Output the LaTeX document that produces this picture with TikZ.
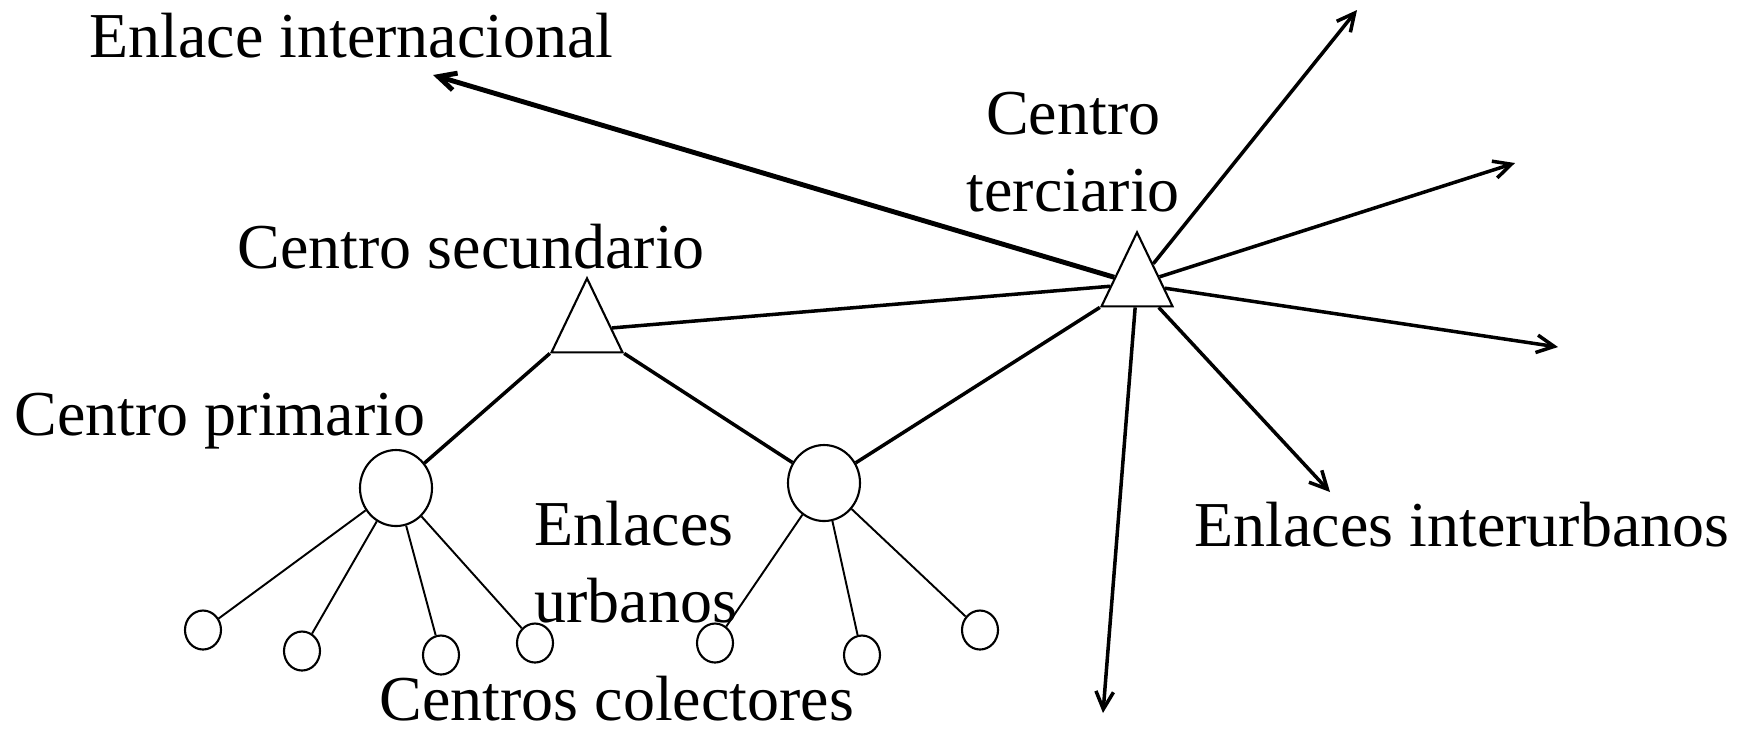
\documentclass[tikz,border=0pt]{standalone}
\usepackage{fontspec}
\setmainfont{Liberation Serif}
\usetikzlibrary{
        arrows.meta,
        shapes.geometric
    }
\tikzset{>={Straight Barb[length=5pt,width=5pt]},every node/.style={font=\fontsize{18.2}{21.9}\selectfont}}
\tikzset{centro/.style={draw,isosceles triangle,isosceles triangle stretches,shape border rotate=90,
        minimum width=0.71cm,minimum height=0.74cm,inner sep=0pt,line width=0.6pt,fill=white}}
\tikzset{primario/.style={draw,ellipse,minimum width=0.72cm,minimum height=0.76cm,inner sep=0pt,line width=0.6pt}}
\tikzset{colector/.style={draw,ellipse,minimum width=0.36cm,minimum height=0.39cm,inner sep=0pt,line width=0.6pt}}
\tikzset{etiqueta/.style={anchor=base west,inner sep=0pt}}
\tikzset{troncal/.style={line width=1pt},urbano/.style={line width=0.55pt}}

\begin{document}
\begin{tikzpicture}
                \useasboundingbox (0,0) rectangle (17.38,-7.29);
                \node[centro] (sec) at (5.87,-3.30) {};
                \node[centro] (ter) at (11.37,-2.84) {};
                \node[primario] (pri1) at (3.96,-4.88) {};
                \node[primario] (pri2) at (8.24,-4.83) {};
                \node[colector] (c1) at (2.03,-6.30) {};
                \node[colector] (c2) at (3.02,-6.51) {};
                \node[colector] (c3) at (4.41,-6.55) {};
                \node[colector] (c4) at (5.35,-6.43) {};
                \node[colector] (c5) at (7.15,-6.43) {};
                \node[colector] (c6) at (8.62,-6.55) {};
                \node[colector] (c7) at (9.80,-6.30) {};
                \coordinate (inter) at (4.33,-0.75);
                \coordinate (n1) at (13.57,-0.10);
                \coordinate (n2) at (15.15,-1.63);
                \coordinate (n3) at (15.58,-3.47);
                \coordinate (n4) at (13.30,-4.92);
                \coordinate (n5) at (11.03,-7.13);
                \node[etiqueta] (lint) at (0.89,-0.57) {Enlace internacional};
                \node[etiqueta,align=center] (lter) at (9.66,-2.11) {Centro\\terciario};
                \node[etiqueta] (lsec) at (2.37,-2.68) {Centro secundario};
                \node[etiqueta] (lpri) at (0.14,-4.35) {Centro primario};
                \node[etiqueta,align=left] (lurb) at (5.34,-6.22) {Enlaces\\urbanos};
                \node[etiqueta] (lintu) at (11.94,-5.46) {Enlaces interurbanos};
                \node[etiqueta] (lcol) at (3.79,-7.20) {Centros colectores};
                \path[troncal]
                    (sec) edge (ter)
                    (sec.left corner) edge (pri1)
                    (sec.right corner) edge (pri2)
                    (ter.left corner) edge (pri2);
                \path[urbano]
                    (pri1) edge (c1) (pri1) edge (c2) (pri1) edge (c3) (pri1) edge (c4)
                    (pri2) edge (c5) (pri2) edge (c6) (pri2) edge (c7);
                \draw[->,line width=1.4pt] (ter) -- (inter);
                \foreach \n in {n1,n2,n3,n4,n5}
                    \draw[->,troncal] (ter) -- (\n);
            \end{tikzpicture}
\end{document}
